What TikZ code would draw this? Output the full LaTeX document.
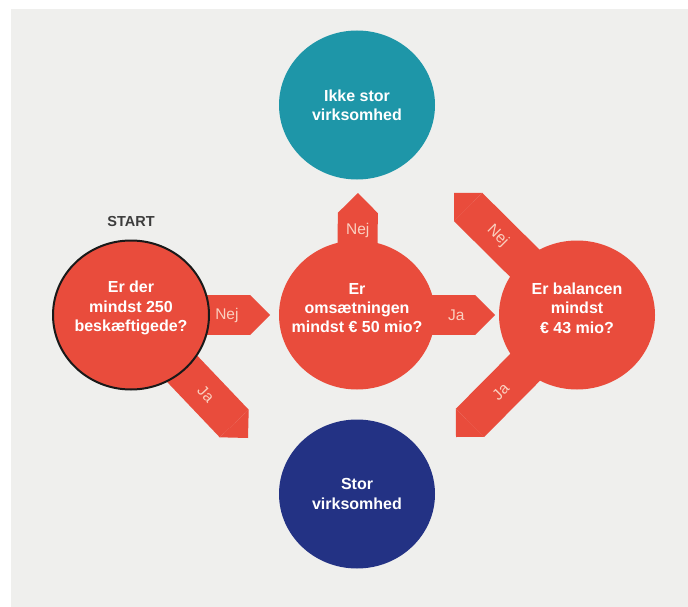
\documentclass[tikz,border=0pt]{standalone}
\usepackage{fontspec}
\setmainfont{Liberation Sans}
\usetikzlibrary{arrows.meta, shapes.geometric, backgrounds}

\definecolor{qred}{RGB}{233,76,60}
\definecolor{qteal}{RGB}{30,150,168}
\definecolor{qnavy}{RGB}{35,50,132}
\definecolor{paper}{RGB}{239,239,237}
\definecolor{armtext}{RGB}{250,208,192}
\definecolor{starttext}{RGB}{60,60,60}

\begin{document}
\begin{tikzpicture}[
            x = 1pt, y = -1pt, % pixel grid, y runs down
            > = {Triangle[width=0pt 1, length=0pt .5, line width=0pt]}, % flat arrow head
            node distance = 220pt % distance between circles
        ]

        \tikzstyle{question}=[
            ellipse,
            fill = qred,
            minimum width = 156pt,
            minimum height = 149pt,
            inner sep = 0pt
        ]
        \tikzstyle{outcome}=[question]
        \tikzstyle{qtext}=[
            align = center,
            text = white,
            font = \bfseries\fontsize{16}{19.3}\selectfont
        ]
        \tikzstyle{branch}=[
            ->,
            draw = qred,
            line width = 40pt
        ]
        \tikzstyle{armlabel}=[
            text = armtext,
            font = \fontsize{15.5}{18}\selectfont
        ]

        \useasboundingbox (0,0) rectangle (688,607);

        \node[question, draw = black!90, line width = 2pt,
            label = {[qtext, yshift=7pt]center:Er der\\mindst 250\\beskæftigede?}] (start) at (131,315) {};
        \node[question, right of=start, node distance=226pt,
            label = {[qtext, yshift=7pt]center:Er\\omsætningen\\mindst € 50 mio?}] (turnover) {};
        \node[question, right of=turnover,
            label = {[qtext, yshift=7pt]center:Er balancen\\mindst\\€ 43 mio?}] (balance) {};
        \node[outcome, fill=qteal, above of=turnover, node distance=210pt,
            label = {[qtext]center:Ikke stor\\virksomhed}] (small) {};
        \node[outcome, fill=qnavy, below of=turnover, node distance=179pt,
            label = {[qtext]center:Stor\\virksomhed}] (large) {};
        \node[text=starttext, font=\bfseries\fontsize{14.5}{17}\selectfont,
            above of=start, node distance=93pt] (startlabel) {START};

        \coordinate (nej1) at (270,315);
        \coordinate (ja1) at (248,438);
        \coordinate (nej2) at (358,193);
        \coordinate (ja2) at (495,315);
        \coordinate (nej3) at (454,193);
        \coordinate (ja3) at (456,437);

        \begin{pgfonlayer}{background}
            \fill[white] (0,0) rectangle (688,607);
            \fill[paper] (11,9.5) rectangle (688,607);

            \draw[branch] (start.center) -- (nej1) node[armlabel, pos=.69] {Nej};
            \draw[branch] (start.center) -- (ja1) node[armlabel, sloped, pos=.64] {Ja};
            \draw[branch] (turnover.center) -- (nej2) node[armlabel, pos=.69] {Nej};
            \draw[branch] (turnover.center) -- (ja2) node[armlabel, pos=.72] {Ja};
            \draw[branch] (balance.center) -- (nej3) node[armlabel, sloped, pos=.645] {Nej};
            \draw[branch] (balance.center) -- (ja3) node[armlabel, sloped, pos=.63] {Ja};
        \end{pgfonlayer}
    \end{tikzpicture}
\end{document}
